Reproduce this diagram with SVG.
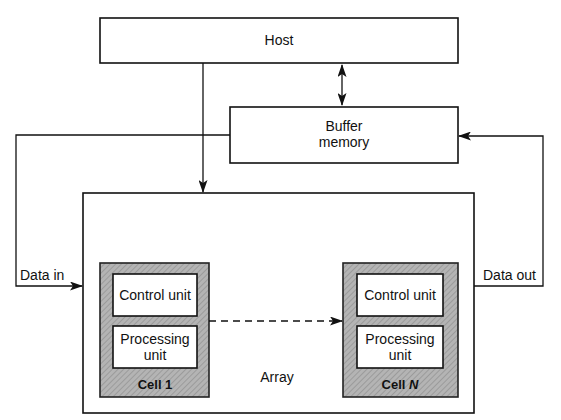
<svg xmlns="http://www.w3.org/2000/svg" width="561" height="420" viewBox="0 0 561 420">
<defs>
<pattern id="hatch" width="4" height="4" patternUnits="userSpaceOnUse" patternTransform="rotate(45)">
<rect width="4" height="4" fill="#b4b4b4"/>
<line x1="0" y1="0" x2="0" y2="4" stroke="#8a8a8a" stroke-width="1.2"/>
</pattern>
<marker id="arr" markerWidth="13" markerHeight="9" refX="12" refY="4.5" orient="auto" markerUnits="userSpaceOnUse">
<path d="M0,0 L13,4.5 L0,9 L3,4.5 Z" fill="#111"/>
</marker>
<marker id="arrs" markerWidth="13" markerHeight="9" refX="1" refY="4.5" orient="auto" markerUnits="userSpaceOnUse">
<path d="M13,0 L0,4.5 L13,9 L10,4.5 Z" fill="#111"/>
</marker>
</defs>
<style>
.box{fill:#fff;stroke:#111;stroke-width:1.6}
.cell{fill:url(#hatch);stroke:#222;stroke-width:1.6}
.t{font-family:"Liberation Sans",Arial,sans-serif;font-size:14px;fill:#111;text-anchor:middle}
.tl{font-family:"Liberation Sans",Arial,sans-serif;font-size:14px;fill:#111}
.b{font-weight:bold;font-size:13px}
.c{fill:none;stroke:#111;stroke-width:1.3}
</style>
<rect width="561" height="420" fill="#fff"/>
<g id="host">
<rect class="box" x="100" y="18" width="358" height="45"/>
<text class="t" x="279" y="45">Host</text>
</g>
<g id="buffer">
<rect class="box" x="230" y="107" width="228" height="56"/>
<text class="t" x="344" y="131">Buffer</text>
<text class="t" x="344" y="147">memory</text>
</g>
<g id="array">
<rect class="box" x="83" y="193" width="391" height="220"/>
<text class="t" x="277" y="382">Array</text>
</g>
<g id="cell1">
<rect class="cell" x="100" y="263" width="109" height="134"/>
<rect class="box" x="113" y="274" width="84" height="42"/>
<text class="t" x="155" y="300">Control unit</text>
<rect class="box" x="113" y="326" width="84" height="42"/>
<text class="t" x="155" y="344">Processing</text>
<text class="t" x="155" y="360">unit</text>
<text class="t b" x="155" y="389">Cell 1</text>
</g>
<g id="cellN">
<rect class="cell" x="343" y="263" width="115" height="134"/>
<rect class="box" x="357" y="274" width="86" height="42"/>
<text class="t" x="400" y="300">Control unit</text>
<rect class="box" x="357" y="326" width="86" height="42"/>
<text class="t" x="400" y="344">Processing</text>
<text class="t" x="400" y="360">unit</text>
<text class="t b" x="400" y="389">Cell <tspan font-style="italic">N</tspan></text>
</g>
<g id="connectors">
<line class="c" x1="342" y1="65" x2="342" y2="105" marker-start="url(#arrs)" marker-end="url(#arr)"/>
<line class="c" x1="203" y1="63" x2="203" y2="192" marker-end="url(#arr)"/>
<polyline class="c" points="230,135 16,135 16,286 82,286" marker-end="url(#arr)"/>
<polyline class="c" points="474,286 543,286 543,136 459,136" marker-end="url(#arr)"/>
<line class="c" x1="209" y1="321" x2="342" y2="321" stroke-dasharray="7,5" marker-end="url(#arr)"/>
<text class="tl" x="20" y="280">Data in</text>
<text class="tl" x="483" y="280">Data out</text>
</g>
</svg>
